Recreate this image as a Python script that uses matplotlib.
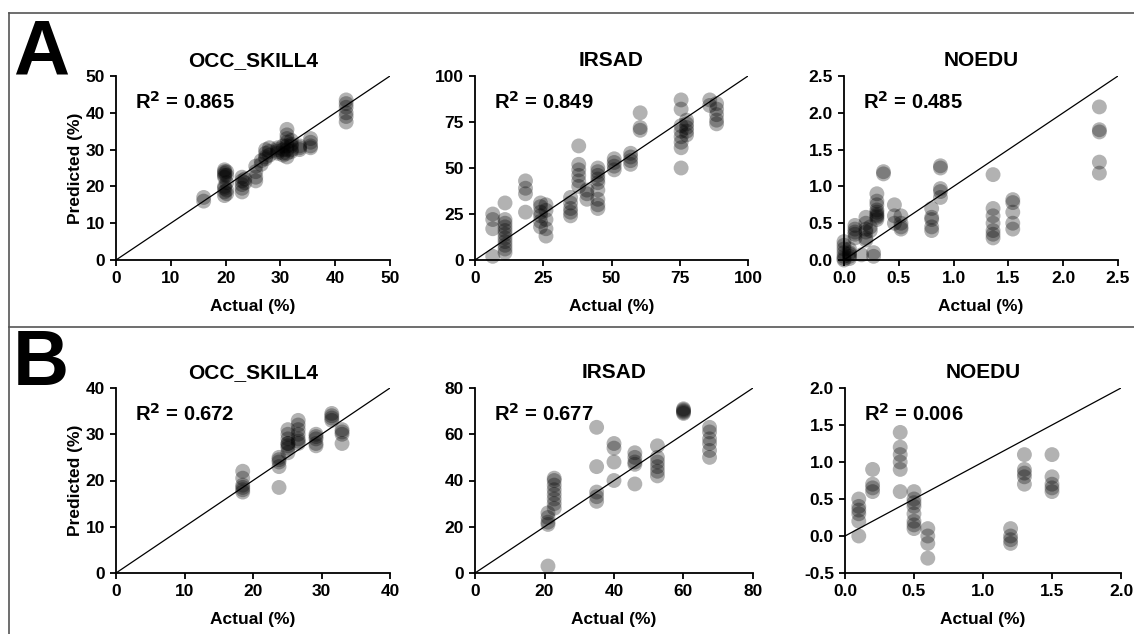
import matplotlib
matplotlib.use("Agg")
import matplotlib.pyplot as plt
from matplotlib.lines import Line2D
from matplotlib.ticker import FormatStrFormatter

plt.rcParams['font.family'] = ['Liberation Sans', 'DejaVu Sans']
plt.rcParams['font.weight'] = 'bold'

# each panel: actual value of a group and the predicted values drawn at it
a_occ_actual = [16, 19.8, 20.2, 23, 23.5, 25.5, 26.5, 27.3, 28, 29.5, 30.5, 31.2, 32, 33.5, 35.5, 42]
a_occ_pred = [[17, 16], [24.5, 24, 23.5, 23, 22.5, 20, 19.5, 18.5, 17.5], [24, 23, 21, 19, 18],
              [22.5, 21.5, 20.5, 19.5, 18.5], [22, 21], [25.5, 24, 22.5, 21.5], [27, 26],
              [30, 29, 28, 27.5], [30.5, 29.5, 28.5], [30.5, 30, 29.5, 29], [31, 30, 29, 28.5],
              [35.5, 34, 33, 32, 31, 30, 29, 28], [32.5, 31.5, 31, 30, 29.5], [31, 30.5, 30],
              [33, 32, 31, 30.5], [43.5, 42.5, 41.5, 40, 39, 37.5]]

a_irsad_actual = [6.5, 11, 18.5, 24, 26, 35, 38, 41, 45, 51, 57, 60.5, 75.5, 77.5, 86, 88.5]
a_irsad_pred = [[25, 22, 17, 2], [31, 22, 20, 18, 16, 14, 12, 10, 8, 6, 4], [43, 39, 36, 26],
                [31, 29, 26, 24, 21, 18], [30, 27, 22, 17, 13], [34, 31, 28, 26, 24],
                [62, 52, 49, 46, 43, 40], [38, 36, 33], [50, 48, 46, 44, 42, 38, 33, 30, 28],
                [55, 53, 51, 49], [58, 56, 54, 52], [80, 72, 70.5],
                [87, 82, 73, 70, 67, 64, 61, 50], [76, 74, 72, 70, 68], [87, 84], [85, 82, 79, 76, 74]]

a_noedu_actual = [0.0, 0.05, 0.1, 0.16, 0.2, 0.24, 0.27, 0.3, 0.36, 0.46, 0.52, 0.8, 0.88, 1.36, 1.54, 2.33]
a_noedu_pred = [[0.25, 0.2, 0.15, 0.1, 0.05, 0.02, 0.0], [0.15, 0.1, 0.08, 0.05, 0.02],
                [0.47, 0.42, 0.38, 0.35, 0.3], [0.07], [0.58, 0.5, 0.42, 0.38, 0.3, 0.27], [0.45, 0.4],
                [0.1, 0.05], [0.9, 0.8, 0.75, 0.68, 0.65, 0.62, 0.6, 0.58, 0.55], [1.2, 1.17],
                [0.75, 0.6, 0.5], [0.6, 0.5, 0.45, 0.42], [0.7, 0.58, 0.55, 0.45, 0.4],
                [1.28, 1.25, 0.97, 0.93, 0.85], [1.16, 0.7, 0.6, 0.5, 0.4, 0.35, 0.3],
                [0.82, 0.78, 0.65, 0.5, 0.42], [2.08, 1.77, 1.74, 1.33, 1.18]]

b_occ_actual = [18.5, 23.8, 25.1, 26.6, 29.2, 31.5, 33]
b_occ_pred = [[22, 20.5, 19, 18.5, 18, 17.5], [25, 24.5, 24, 23, 18.5],
              [31, 30, 29, 28, 28, 27.5, 27, 26], [33, 32, 31, 30, 29, 28.5, 28],
              [30, 29.5, 29, 28, 27.5], [34.5, 34, 33.5, 33], [31, 30.5, 30, 28]]

b_irsad_actual = [21, 22.8, 35, 40, 46, 52.5, 60, 67.5]
b_irsad_pred = [[26, 24, 22, 21, 3], [41, 40, 38, 36, 34, 32, 30, 28], [63, 46, 35, 33, 31],
                [56, 54, 48, 40], [52, 50, 48, 47, 38.5], [55, 50, 48, 46, 44, 42],
                [71, 70.5, 70, 69.5, 69], [63, 61, 58, 56, 53, 50]]

b_noedu_actual = [0.1, 0.2, 0.4, 0.5, 0.6, 1.2, 1.3, 1.5]
b_noedu_pred = [[0.5, 0.4, 0.35, 0.3, 0.2, 0.0], [0.9, 0.7, 0.65, 0.6], [1.4, 1.2, 1.1, 1.0, 0.9, 0.6],
                [0.6, 0.5, 0.45, 0.4, 0.3, 0.2, 0.15, 0.1], [0.1, 0.0, -0.1, -0.3],
                [0.1, 0.0, -0.05, -0.1], [1.1, 0.9, 0.85, 0.8, 0.7], [1.1, 0.8, 0.7, 0.65, 0.6]]

titles = ['OCC_SKILL4', 'IRSAD', 'NOEDU']
r2_a = ['0.865', '0.849', '0.485']
r2_b = ['0.672', '0.677', '0.006']

fig = plt.figure(figsize=(11.34, 6.34), dpi=100)

W, H = 1134, 634


def make_ax(x0, x1, y0, y1):
    return fig.add_axes([x0 / W, 1 - y1 / H, (x1 - x0) / W, (y1 - y0) / H])


panels = [
    # (x0, x1, ytop, ybottom, actual, pred, xmax, ylim, xticks, yticks, fmt, title, r2)
    (116, 390, 76, 260, a_occ_actual, a_occ_pred, 50, (0, 50), range(0, 51, 10), range(0, 51, 10), '%d', titles[0], r2_a[0]),
    (475, 748, 76, 260, a_irsad_actual, a_irsad_pred, 100, (0, 100), range(0, 101, 25), range(0, 101, 25), '%d', titles[1], r2_a[1]),
    (844, 1118, 76, 260, a_noedu_actual, a_noedu_pred, 2.5, (0, 2.5), [0, 0.5, 1, 1.5, 2, 2.5], [0, 0.5, 1, 1.5, 2, 2.5], '%.1f', titles[2], r2_a[2]),
    (116, 390, 388, 573, b_occ_actual, b_occ_pred, 40, (0, 40), range(0, 41, 10), range(0, 41, 10), '%d', titles[0], r2_b[0]),
    (475, 753, 388, 573, b_irsad_actual, b_irsad_pred, 80, (0, 80), range(0, 81, 20), range(0, 81, 20), '%d', titles[1], r2_b[1]),
    (845, 1121, 388, 573, b_noedu_actual, b_noedu_pred, 2.0, (-0.5, 2.0), [0, 0.5, 1, 1.5, 2], [-0.5, 0, 0.5, 1, 1.5, 2], '%.1f', titles[2], r2_b[2]),
]

for i, (x0, x1, yt, yb, actual, pred, xmax, ylim, xt, yt_ticks, fmt, title, r2) in enumerate(panels):
    ax = make_ax(x0, x1, yt, yb)
    xs, ys = [], []
    for a, plist in zip(actual, pred):
        for p in plist:
            xs.append(a)
            ys.append(p)
    ax.scatter(xs, ys, s=115, color='black', alpha=0.3, edgecolors='none', clip_on=False, zorder=3)
    ax.plot([0, xmax], [0, xmax], color='black', lw=0.9, zorder=2)
    ax.set_xlim(0, xmax)
    ax.set_ylim(*ylim)
    ax.set_xticks(list(xt))
    ax.set_yticks(list(yt_ticks))
    ax.xaxis.set_major_formatter(FormatStrFormatter(fmt))
    ax.yaxis.set_major_formatter(FormatStrFormatter(fmt))
    for s in ['top', 'right']:
        ax.spines[s].set_visible(False)
    for s in ['left', 'bottom']:
        ax.spines[s].set_linewidth(1.3)
    ax.tick_params(direction='out', length=4, width=1.3, labelsize=12.5, pad=4)
    for lab in ax.get_xticklabels() + ax.get_yticklabels():
        lab.set_fontweight('bold')
    ax.set_title(title, fontsize=15, fontweight='bold', pad=7)
    ax.set_xlabel('Actual (%)', fontsize=12.5, fontweight='bold', labelpad=9)
    if i % 3 == 0:
        ax.set_ylabel('Predicted (%)', fontsize=12.5, fontweight='bold', labelpad=2)
    ax.text(0.07, 0.86, r'R$^\mathbf{2}$ = ' + r2, transform=ax.transAxes, fontsize=14.5,
            fontweight='bold', va='center', ha='left')

fig.text(13 / W, 1 - 75 / H, 'A', fontsize=56, fontweight='bold', ha='left', va='baseline')
fig.text(13 / W, 1 - 385 / H, 'B', fontsize=56, fontweight='bold', ha='left', va='baseline')

frame = '#555555'
fig.add_artist(Line2D([9 / W, 1], [1 - 13 / H, 1 - 13 / H], color=frame, lw=1.2, transform=fig.transFigure))
fig.add_artist(Line2D([9 / W, 1], [1 - 327 / H, 1 - 327 / H], color=frame, lw=1.2, transform=fig.transFigure))
fig.add_artist(Line2D([9 / W, 9 / W], [1 - 13 / H, 0], color=frame, lw=1.2, transform=fig.transFigure))

fig.savefig('out.png', dpi=100)
